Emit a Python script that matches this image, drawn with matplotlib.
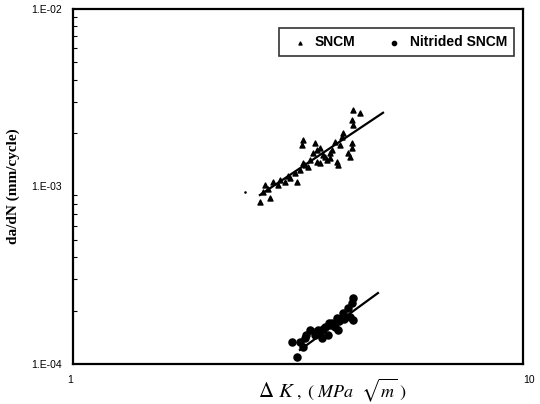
import matplotlib
matplotlib.use("Agg")
import matplotlib.pyplot as plt
from matplotlib.ticker import FixedLocator, FixedFormatter, LogLocator, NullFormatter

# SNCM (triangles)
sncm_dk = [2.603, 2.741, 2.671, 2.783, 2.884, 2.959, 3.036, 3.147, 3.115, 3.195,
           3.245, 3.329, 3.363, 3.415, 3.486, 3.245, 3.228, 3.451, 3.540, 3.594,
           3.726, 3.822, 3.961, 3.981, 3.726, 3.669, 3.540, 3.486, 3.881, 3.862,
           4.084, 4.126, 4.169, 4.169, 4.190, 4.169, 4.190, 4.343,
           2.643, 2.713, 2.855, 3.005, 3.278, 3.631, 3.764, 3.92]
sncm_dadn = [8.18e-4, 8.61e-4, 1.02e-3, 1.06e-3, 1.09e-3, 1.06e-3, 1.12e-3, 1.06e-3, 1.19e-3, 1.24e-3,
             1.36e-3, 1.29e-3, 1.41e-3, 1.54e-3, 1.61e-3, 1.83e-3, 1.71e-3, 1.76e-3, 1.65e-3, 1.50e-3,
             1.54e-3, 1.78e-3, 1.90e-3, 2.00e-3, 1.45e-3, 1.41e-3, 1.36e-3, 1.37e-3, 1.32e-3, 1.37e-3,
             1.54e-3, 1.47e-3, 1.65e-3, 1.76e-3, 2.22e-3, 2.37e-3, 2.70e-3, 2.60e-3,
             9.31e-4, 9.68e-4, 1.02e-3, 1.15e-3, 1.32e-3, 1.47e-3, 1.61e-3, 1.72e-3]

# Nitrided SNCM (circles)
nit_dk = [3.147, 3.195, 3.245, 3.363, 3.451, 3.540, 3.631, 3.764, 3.862, 3.881,
          3.981, 4.084, 4.169, 4.190, 4.190, 4.126, 3.688, 3.576, 3.278, 3.066,
          3.30, 3.45, 3.60, 3.75, 3.90, 4.00, 3.70, 3.50, 3.82]
nit_dadn = [1.09e-4, 1.33e-4, 1.25e-4, 1.55e-4, 1.46e-4, 1.50e-4, 1.62e-4, 1.70e-4, 1.82e-4, 1.55e-4,
            1.94e-4, 2.07e-4, 2.21e-4, 2.35e-4, 1.77e-4, 1.84e-4, 1.46e-4, 1.40e-4, 1.40e-4, 1.33e-4,
            1.45e-4, 1.52e-4, 1.58e-4, 1.65e-4, 1.75e-4, 1.80e-4, 1.70e-4, 1.55e-4, 1.62e-4]

# fitted lines (endpoints)
sncm_fit_dk = [2.603, 4.886]
sncm_fit_dadn = [8.95e-4, 2.60e-3]
nit_fit_dk = [3.195, 4.762]
nit_fit_dadn = [1.20e-4, 2.51e-4]

stray_dk = [2.411]
stray_dadn = [9.31e-4]

ytick_vals = [1e-4, 1e-3, 1e-2]
ytick_labels = ["1.E-04", "1.E-03", "1.E-02"]
xtick_vals = [1, 10]
xtick_labels = ["1", "10"]

fig = plt.figure(figsize=(5.4, 4.04), dpi=100)
ax = fig.add_axes([0.135, 0.099, 0.8335, 0.879])

ax.plot(sncm_fit_dk, sncm_fit_dadn, color="black", lw=1.6)
ax.plot(nit_fit_dk, nit_fit_dadn, color="black", lw=1.6)
ax.scatter(sncm_dk, sncm_dadn, marker="^", s=13, color="black", label="SNCM", zorder=3)
ax.scatter(nit_dk, nit_dadn, marker="o", s=26, color="black", label="Nitrided SNCM", zorder=3)
ax.scatter(stray_dk, stray_dadn, marker=".", s=3, color="black")

ax.set_xscale("log")
ax.set_yscale("log")
ax.set_xlim(1, 10)
ax.set_ylim(1e-4, 1e-2)

ax.xaxis.set_major_locator(FixedLocator(xtick_vals))
ax.xaxis.set_major_formatter(FixedFormatter(xtick_labels))
ax.yaxis.set_major_locator(FixedLocator(ytick_vals))
ax.yaxis.set_major_formatter(FixedFormatter(ytick_labels))
ax.yaxis.set_minor_locator(LogLocator(base=10, subs=range(2, 10)))
ax.yaxis.set_minor_formatter(NullFormatter())
ax.xaxis.set_minor_formatter(NullFormatter())
ax.tick_params(axis="both", which="major", direction="in", length=0,
               labelsize=7.5, pad=8)
ax.tick_params(axis="x", which="minor", length=0)
ax.tick_params(axis="y", which="minor", direction="in", length=3, width=0.8)
for lab in ax.get_xticklabels() + ax.get_yticklabels():
    lab.set_fontfamily("Liberation Sans")
xl = ax.get_xticklabels()
xl[0].set_horizontalalignment("right")
xl[1].set_horizontalalignment("left")

for sp in ax.spines.values():
    sp.set_linewidth(1.6)

leg = ax.legend(loc="upper right", ncol=2, bbox_to_anchor=(0.995, 0.965),
                frameon=True, fancybox=False, edgecolor="black",
                prop={"family": "Liberation Sans", "weight": "bold", "size": 10},
                handletextpad=0.1, columnspacing=1.8, markerscale=0.6,
                borderpad=0.5, handlelength=2.0)
leg.get_frame().set_linewidth(1.2)

ax.set_ylabel("da/dN (mm/cycle)", fontfamily="Liberation Serif",
              fontweight="bold", fontsize=11, labelpad=8)

plt.rcParams["mathtext.fontset"] = "stix"
fig.text(258 / 540, 1 - 397 / 404, r"$\Delta\ K$", fontsize=15, ha="left", va="baseline")
fig.text(296 / 540, 1 - 397 / 404, r"$,\ (\ MPa\ \ \sqrt{m}\ )$", fontsize=13,
         ha="left", va="baseline")

fig.savefig("out.png", dpi=100)
